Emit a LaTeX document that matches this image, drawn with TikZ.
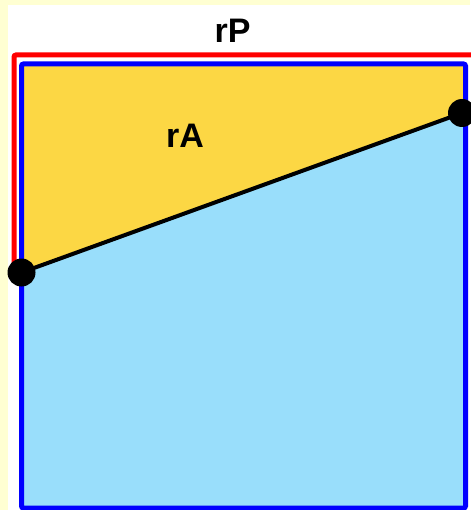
\documentclass[tikz,border=0pt]{standalone}
\usepackage{fontspec}
\setmainfont{Liberation Sans}
\definecolor{paleyellow}{HTML}{FFFFD2}
\definecolor{goldfill}{HTML}{FCD744}
\definecolor{skyfill}{HTML}{99DEFB}
\begin{document}
\begin{tikzpicture}[x=1pt,y=-1pt]
\tikzset{label text/.style={font=\fontsize{34}{34}\selectfont\bfseries}}
\coordinate (TL) at (21.5,64);
\coordinate (TR) at (465.5,64);
\coordinate (BL) at (21.5,508);
\coordinate (BR) at (465.5,508);
\coordinate (L) at (21.5,272.5);
\coordinate (R) at (462,113);

\useasboundingbox (0,0) rectangle (470,510);
\fill[paleyellow] (0,0) rectangle (470,510);
\fill[white] (8,5) rectangle (472,512);

\fill[goldfill] (TL) -- (TR) -- (R) -- (L) -- cycle;
\fill[skyfill] (L) -- (R) -- (TR |- R) -- (BR) -- (BL) -- cycle;

\draw[red,line width=5pt,rounded corners=2pt] (14,272) -- (14,55) -- (474,55);
\draw[blue,line width=5pt,rounded corners=2pt] (TL) rectangle (BR);

\draw[line width=4pt] (L) -- (R);
\fill (L) circle (14);
\fill (R) circle (14);

\node[label text] (rP) at (232.5,30.5) {rP};
\node[label text] (rA) at (185,135.5) {rA};
\end{tikzpicture}
\end{document}
